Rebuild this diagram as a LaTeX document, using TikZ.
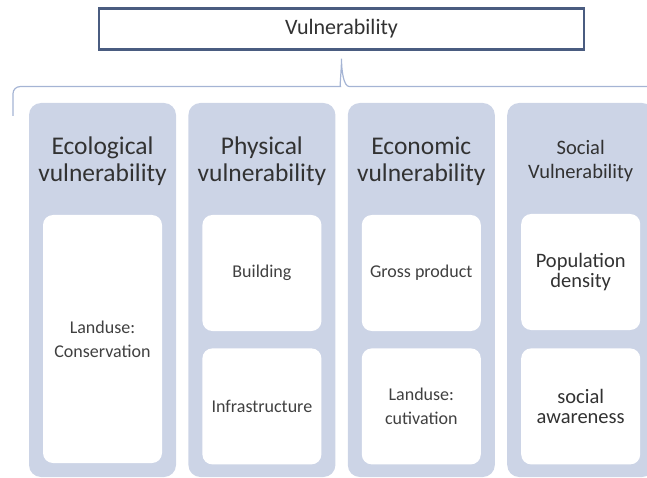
\documentclass[tikz,border=0pt]{standalone}
\usepackage{fontspec}
\setmainfont{Carlito}
\usetikzlibrary{positioning,calc}

\definecolor{pillarblue}{RGB}{204,212,230}
\definecolor{braceblue}{RGB}{165,180,212}
\definecolor{frameblue}{RGB}{74,92,128}
\definecolor{inkgrey}{RGB}{50,50,50}
\definecolor{cellgrey}{RGB}{64,64,64}

\begin{document}
\begin{tikzpicture}[
    x=1pt, y=-1pt,
    text=inkgrey,
    topbox/.style={
        rectangle,
        draw=frameblue,
        line width=2.2pt,
        minimum width=485pt,
        minimum height=41pt,
        fill=white,
        font=\fontsize{22}{24}\selectfont
    },
    pillar/.style={
        rectangle,
        fill=pillarblue,
        rounded corners=12pt,
        minimum width=147pt,
        minimum height=374pt,
        inner sep=0pt
    },
    heading/.style={
        align=center,
        inner sep=0pt,
        font=\fontsize{25.5}{27}\selectfont
    },
    cell/.style={
        rectangle,
        fill=white,
        rounded corners=10pt,
        minimum width=119pt,
        minimum height=116pt,
        align=center,
        inner sep=2pt,
        text=cellgrey,
        font=\fontsize{18}{24}\selectfont
    },
    bigcell/.style={
        cell,
        text=inkgrey,
        font=\fontsize{20.5}{20.5}\selectfont
    },
    bracket/.style={draw=braceblue, line width=1.2pt}
]

\clip (0,0) rectangle (647,478);

% =========================================================
% CABECERA
% =========================================================

\node[topbox] (vuln) at (341.5,29) {Vulnerability};

\coordinate (bracetip) at ($(vuln.south)+(0,8)$);
\coordinate (braceleft) at (13,116);

% llave bajo la cabecera
\draw[bracket] (braceleft) [rounded corners=7pt] |- ($(bracetip)+(-8,28)$)
    [sharp corners] .. controls ($(bracetip)+(-2,28)$) and ($(bracetip)+(0,12)$) .. (bracetip)
    .. controls ($(bracetip)+(0,12)$) and ($(bracetip)+(2,28)$) .. ($(bracetip)+(8,28)$)
    -- ++(340,0);

% =========================================================
% COLUMNAS
% =========================================================

\node[pillar] (eco) at (102.5,290) {};
\node[pillar, right=12pt of eco] (phys) {};
\node[pillar, right=12pt of phys] (econ) {};
\node[pillar, right=12pt of econ] (soc) {};

\node[heading] (ecohead) at ($(eco.north)+(0,58)$) {Ecological\\vulnerability};
\node[heading] (physhead) at ($(phys.north)+(0,58)$) {Physical\\vulnerability};
\node[heading] (econhead) at ($(econ.north)+(0,58)$) {Economic\\vulnerability};
\node[heading, font=\fontsize{20.5}{24}\selectfont] (sochead)
    at ($(soc.north)+(0,58)$) {Social\\Vulnerability};

% =========================================================
% CELDAS
% =========================================================

\node[cell, minimum height=248pt, below=112pt of eco.north] (conserv)
{Landuse:\\Conservation};

\node[cell, below=112pt of phys.north] (build) {Building};
\node[cell, below=17pt of build] (infra) {Infrastructure};

\node[cell, below=112pt of econ.north] (gross) {Gross product};
\node[cell, below=17pt of gross] (cultiv) {Landuse:\\cutivation};

\node[bigcell, below=111pt of soc.north] (popdens) {Population\\density};
\node[bigcell, below=18pt of popdens] (aware) {social\\awareness};

\end{tikzpicture}
\end{document}
